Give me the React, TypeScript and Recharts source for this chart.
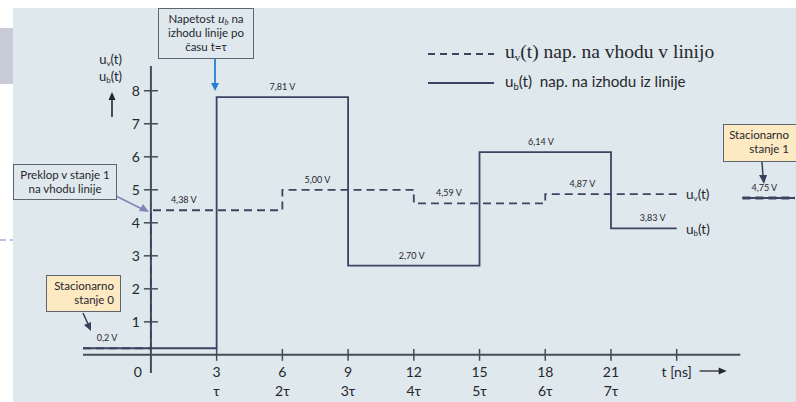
import React from 'react';
import { LineChart, Line, XAxis, YAxis, ReferenceLine, ReferenceDot } from 'recharts';

// u_b(t): napetost na izhodu iz linije
const ubTimes = [-3.1, 3, 9, 15, 21, 24];
const ubVolts = [0.2, 7.81, 2.7, 6.14, 3.83, 3.83];
// u_v(t): napetost na vhodu v linijo
const uvTimes = [-3.1, 0, 6, 12, 18, 24];
const uvVolts = [0.2, 4.38, 5.0, 4.59, 4.87, 4.87];
// stacionarno stanje 1
const steadyTimes = [27.0, 29.4];
const steadyVolts = [4.75, 4.75];

const xTicks = [0, 3, 6, 9, 12, 15, 18, 21, 24];
const tauLabels = ['', 'τ', '2τ', '3τ', '4τ', '5τ', '6τ', '7τ', ''];
const yTicks = [1, 2, 3, 4, 5, 6, 7, 8];

const valueTexts = ['0,2 V', '4,38 V', '7,81 V', '5,00 V', '2,70 V', '4,59 V', '6,14 V', '4,87 V', '3,83 V', '4,75 V'];
const valueTimes = [-2.0, 1.5, 6.0, 7.6, 11.9, 13.6, 17.8, 19.7, 22.9, 28.0];
const valueVolts = [0.2, 4.38, 7.81, 5.0, 2.7, 4.59, 6.14, 4.87, 3.83, 4.75];

const toPoints = (ts: number[], vs: number[]) => ts.map((t, i) => ({ t, v: vs[i] }));

const LINE = '#3b4561';
const AXIS = '#464b58';
const TXT = '#26272e';
const SANS = 'Lato, "Open Sans", sans-serif';

const XTick = (props: any) => {
  const { x, y, payload } = props;
  const val = payload.value;
  const i = xTicks.indexOf(val);
  if (val === 0) {
    return <text x={x - 9} y={y + 4} textAnchor="end" fontSize={14} fontFamily={SANS} fill={TXT}>0</text>;
  }
  if (val === 24) {
    return (
      <g>
        <text x={x} y={y + 4} textAnchor="middle" fontSize={14} fontFamily={SANS} fill={TXT}>t [ns]</text>
        <line x1={x + 23} x2={x + 44} y1={y - 2} y2={y - 2} stroke={TXT} strokeWidth={1.3} />
        <path d={`M${x + 50},${y - 2} L${x + 42},${y - 5.5} L${x + 42},${y + 1.5} Z`} fill={TXT} />
      </g>
    );
  }
  return (
    <g fontFamily={SANS} fill={TXT} fontSize={14}>
      <text x={x} y={y + 4} textAnchor="middle">{val}</text>
      <text x={x} y={y + 23} textAnchor="middle">{tauLabels[i]}</text>
    </g>
  );
};

const box: React.CSSProperties = {
  position: 'absolute',
  boxSizing: 'border-box',
  border: '1px solid #5f6470',
  fontFamily: SANS,
  fontSize: 11.5,
  color: TXT,
  lineHeight: '14px',
};

const Sub = ({ c, size = 8 }: { c: string; size?: number }) => (
  <span style={{ fontSize: size, verticalAlign: '-0.3em', lineHeight: 0 }}>{c}</span>
);

export default function App() {
  return (
    <div style={{ position: 'absolute', left: 0, top: 0, width: 796, height: 402, background: '#fff', overflow: 'hidden' }}>
      <div style={{ position: 'absolute', left: 13, top: 8, right: 0, bottom: 0, background: '#dfe8ed' }} />
      <div style={{ position: 'absolute', left: 0, top: 28, width: 13, height: 56, background: '#cacbd9' }} />
      <svg style={{ position: 'absolute', left: 0, top: 0 }} width={20} height={402}>
        <line x1={0} x2={13} y1={240} y2={240} stroke="#9fb1d2" strokeWidth={1.5} strokeDasharray="6 4" />
      </svg>

      <div style={{ position: 'absolute', left: 0, top: 0 }}>
        <LineChart width={796} height={402} margin={{ top: 66, right: 1, bottom: 0, left: 83 }}>
          <XAxis
            type="number"
            dataKey="t"
            domain={[-3.1, 29.4]}
            ticks={xTicks}
            interval={0}
            allowDataOverflow
            axisLine={false}
            tickLine={false}
            tickSize={0}
            tickMargin={0}
            height={29}
            tick={<XTick />}
          />
          <YAxis type="number" dataKey="v" domain={[-0.55, 8.75]} allowDataOverflow hide />

          <ReferenceLine segment={[{ x: -3.1, y: 0 }, { x: 26.9, y: 0 }]} stroke={AXIS} strokeWidth={2} />
          <ReferenceLine segment={[{ x: 0, y: -0.55 }, { x: 0, y: 8.75 }]} stroke={AXIS} strokeWidth={2} />
          {yTicks.map((k) => (
            <ReferenceLine
              key={'y' + k}
              segment={[{ x: -0.32, y: k }, { x: 0.32, y: k }]}
              stroke={AXIS}
              strokeWidth={1.5}
              label={{ value: String(k), position: 'left', offset: 4, fontSize: 14, fontFamily: SANS, fill: TXT }}
            />
          ))}
          {xTicks.filter((k) => k > 0).map((k) => (
            <ReferenceLine key={'x' + k} segment={[{ x: k, y: -0.18 }, { x: k, y: 0.18 }]} stroke={AXIS} strokeWidth={1.5} />
          ))}

          <Line data={toPoints(ubTimes, ubVolts)} dataKey="v" type="stepAfter" stroke={LINE} strokeWidth={1.8} dot={false} isAnimationActive={false} />
          <Line data={toPoints(steadyTimes, steadyVolts)} dataKey="v" type="linear" stroke={LINE} strokeWidth={2} dot={false} isAnimationActive={false} />
          <Line data={toPoints(uvTimes, uvVolts)} dataKey="v" type="stepAfter" stroke={LINE} strokeWidth={1.8} strokeDasharray="8 5" dot={false} isAnimationActive={false} />
          <Line data={toPoints(steadyTimes, steadyVolts)} dataKey="v" type="linear" stroke={LINE} strokeWidth={3} strokeDasharray="8 5" dot={false} isAnimationActive={false} />

          {valueTexts.map((txt, i) => (
            <ReferenceDot
              key={txt + i}
              x={valueTimes[i]}
              y={valueVolts[i]}
              r={0}
              fill="none"
              stroke="none"
              label={{ value: txt, position: 'top', offset: 7, fontSize: 9, fontFamily: SANS, fill: TXT }}
            />
          ))}
        </LineChart>
      </div>

      {/* arrows, legend lines */}
      <svg style={{ position: 'absolute', left: 0, top: 0 }} width={796} height={402}>
        <line x1={215} x2={215} y1={55} y2={84} stroke="#2a7fd2" strokeWidth={1.8} />
        <path d="M215,91 L211,83 L219,83 Z" fill="#2a7fd2" />
        <line x1={106} x2={142} y1={191} y2={209} stroke="#7b86b6" strokeWidth={1.5} />
        <path d="M149,212 L139,211 L143,204 Z" fill="#7b86b6" />
        <line x1={83} x2={88} y1={313} y2={324} stroke="#34405c" strokeWidth={1.5} />
        <path d="M91,331 L84,325 L91,322 Z" fill="#34405c" />
        <line x1={762} x2={763} y1={162} y2={176} stroke="#34405c" strokeWidth={1.5} />
        <path d="M764,184 L759,175 L767,175 Z" fill="#34405c" />
        <line x1={112} x2={112} y1={117} y2={99} stroke={TXT} strokeWidth={1.6} />
        <path d="M112,92 L108.5,100 L115.5,100 Z" fill={TXT} />
        <line x1={428} x2={494} y1={54} y2={54} stroke={LINE} strokeWidth={1.8} strokeDasharray="7 5" />
        <line x1={428} x2={494} y1={83} y2={83} stroke={LINE} strokeWidth={1.8} />
      </svg>

      {/* legend text */}
      <div style={{ position: 'absolute', left: 505, top: 41, fontFamily: '"Liberation Serif", serif', fontSize: 19.5, color: TXT, whiteSpace: 'nowrap' }}>
        u<Sub c="v" size={11} />(t) nap. na vhodu v linijo
      </div>
      <div style={{ position: 'absolute', left: 505, top: 72, fontFamily: SANS, fontSize: 15.2, color: TXT, whiteSpace: 'nowrap' }}>
        u<Sub c="b" size={9.5} />(t)&nbsp; nap. na izhodu iz linije
      </div>

      {/* axis title */}
      <div style={{ position: 'absolute', left: 99, top: 51, fontFamily: SANS, fontSize: 13, color: TXT, lineHeight: '17px', textAlign: 'center' }}>
        <div>u<Sub c="v" />(t)</div>
        <div>u<Sub c="b" />(t)</div>
      </div>

      {/* line end labels */}
      <div style={{ position: 'absolute', left: 686, top: 186, fontFamily: SANS, fontSize: 13.5, color: TXT }}>
        u<Sub c="v" />(t)
      </div>
      <div style={{ position: 'absolute', left: 686, top: 221, fontFamily: SANS, fontSize: 13.5, color: TXT }}>
        u<Sub c="b" />(t)
      </div>

      {/* annotation boxes */}
      <div style={{ ...box, left: 158, top: 8, width: 96, height: 51, background: '#dfe8ed', textAlign: 'center', paddingTop: 3 }}>
        <div>Napetost <i style={{ fontFamily: '"Liberation Serif", serif', fontSize: 13 }}>u<Sub c="b" /></i> na</div>
        <div>izhodu linije po</div>
        <div>času t=τ</div>
      </div>
      <div style={{ ...box, left: 13, top: 164, width: 104, height: 36, background: '#dfe8ed', textAlign: 'center', paddingTop: 3 }}>
        <div>Preklop v stanje 1</div>
        <div>na vhodu linije</div>
      </div>
      <div style={{ ...box, left: 46, top: 275, width: 75, height: 37, background: '#fde9c2', textAlign: 'right', padding: '3px 6px 0 0' }}>
        <div>Stacionarno</div>
        <div>stanje 0</div>
      </div>
      <div style={{ ...box, left: 723, top: 124, width: 80, height: 38, background: '#fde9c2', textAlign: 'right', padding: '3px 13px 0 0' }}>
        <div>Stacionarno</div>
        <div>stanje 1</div>
      </div>
    </div>
  );
}
